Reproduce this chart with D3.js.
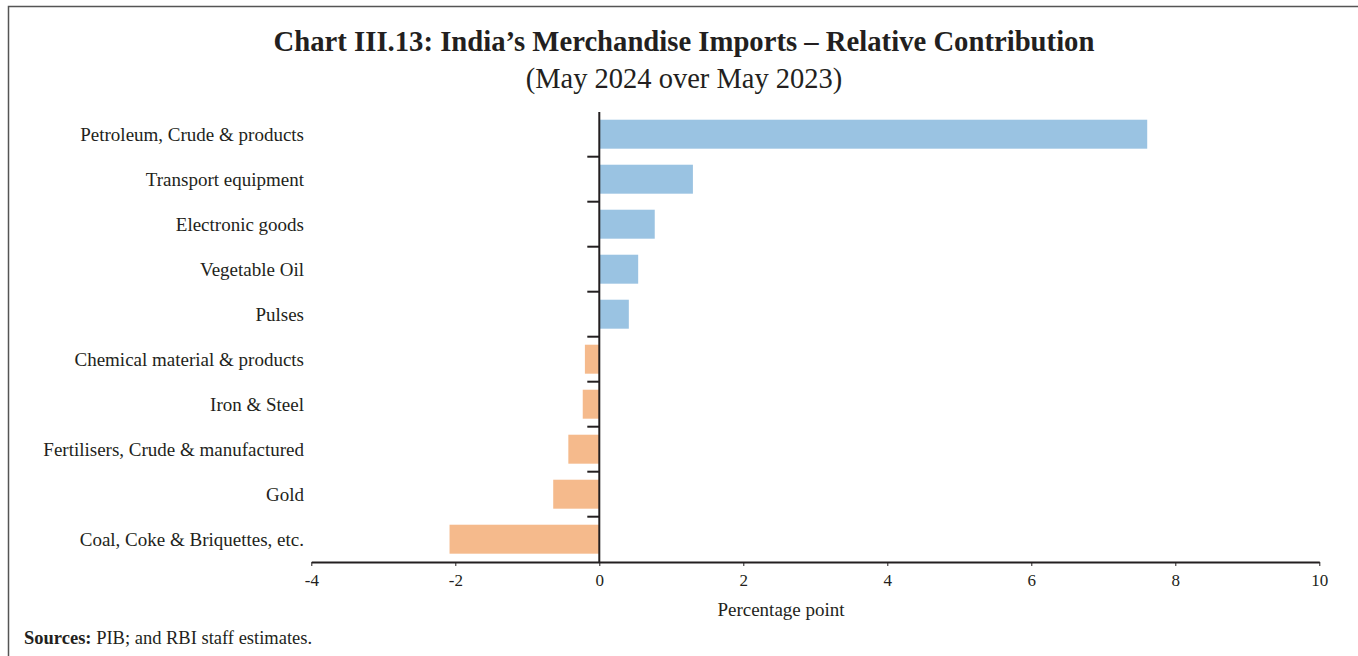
<!DOCTYPE html>
<html><head><meta charset="utf-8">
<script src="https://cdn.jsdelivr.net/npm/d3@7"></script>
<style>
html,body{margin:0;padding:0;background:#fff;}
svg text{font-family:"Liberation Serif","DejaVu Serif",serif;fill:#231F20;}
</style></head>
<body><svg id="c" width="1358" height="656"></svg>
<script>
const categories = ["Petroleum, Crude & products","Transport equipment","Electronic goods","Vegetable Oil","Pulses","Chemical material & products","Iron & Steel","Fertilisers, Crude & manufactured","Gold","Coal, Coke & Briquettes, etc."];
const values = [7.61, 1.30, 0.77, 0.54, 0.41, -0.20, -0.23, -0.43, -0.64, -2.08];
const xTicks = [-4, -2, 0, 2, 4, 6, 8, 10];
const titleText = "Chart III.13: India’s Merchandise Imports – Relative Contribution";
const subtitleText = "(May 2024 over May 2023)";
const xLabel = "Percentage point";

const svg = d3.select("#c");
const ink = "#231F20";
// frame
svg.append("path").attr("d","M8.5,660 V6.5 H1360").attr("fill","none").attr("stroke","#555").attr("stroke-width",1.5);

svg.append("text").attr("x",684).attr("y",51).attr("text-anchor","middle")
  .style("font-size","28.7px").style("font-weight","bold").text(titleText);
svg.append("text").attr("x",684).attr("y",88).attr("text-anchor","middle")
  .style("font-size","28.5px").text(subtitleText);

const x = d3.scaleLinear().domain([-4,10]).range([311.3,1319.3]);
const y = d3.scaleBand().domain(categories).range([111.7,561.7]).paddingInner(0.356).paddingOuter(0.178);

svg.append("g").selectAll("rect").data(values).join("rect")
  .attr("x",d=>x(Math.min(0,d))).attr("width",d=>Math.abs(x(d)-x(0)))
  .attr("y",(d,i)=>y(categories[i])).attr("height",y.bandwidth())
  .attr("fill",d=>d>=0?"#9AC3E2":"#F5BA8C");

// x axis
const gx = svg.append("g").attr("transform","translate(0,562)")
  .call(d3.axisBottom(x).tickValues(xTicks).tickSize(4).tickSizeOuter(0).tickFormat(d=>String(d)));
gx.select(".domain").attr("stroke",ink).attr("stroke-width",2);
gx.selectAll(".tick line").attr("stroke",ink).attr("stroke-width",1);
gx.selectAll(".tick text").attr("y",12).style("font-size","17px").style("font-family","'Liberation Serif',serif").attr("fill",ink);

// y axis (vertical line at 0) with ticks at band boundaries
const x0 = x(0);
svg.append("line").attr("x1",x0).attr("x2",x0).attr("y1",112).attr("y2",562).attr("stroke",ink).attr("stroke-width",2);
const step = y.step();
svg.append("g").selectAll("line").data(categories.slice(1)).join("line")
  .attr("x1",x0-12).attr("x2",x0).attr("y1",d=>y(d)-(step-y.bandwidth())/2).attr("y2",d=>y(d)-(step-y.bandwidth())/2)
  .attr("stroke",ink).attr("stroke-width",2);

svg.append("g").selectAll("text").data(categories).join("text")
  .attr("x",304).attr("y",d=>y(d)+y.bandwidth()/2).attr("dy","0.35em").attr("text-anchor","end")
  .style("font-size","19px").text(d=>d);

svg.append("text").attr("x",781).attr("y",616).attr("text-anchor","middle").style("font-size","19px").text(xLabel);

const s = svg.append("text").attr("x",24).attr("y",644).style("font-size","18.5px");
s.append("tspan").style("font-weight","bold").text("Sources:");
s.append("tspan").text(" PIB; and RBI staff estimates.");
</script></body></html>
